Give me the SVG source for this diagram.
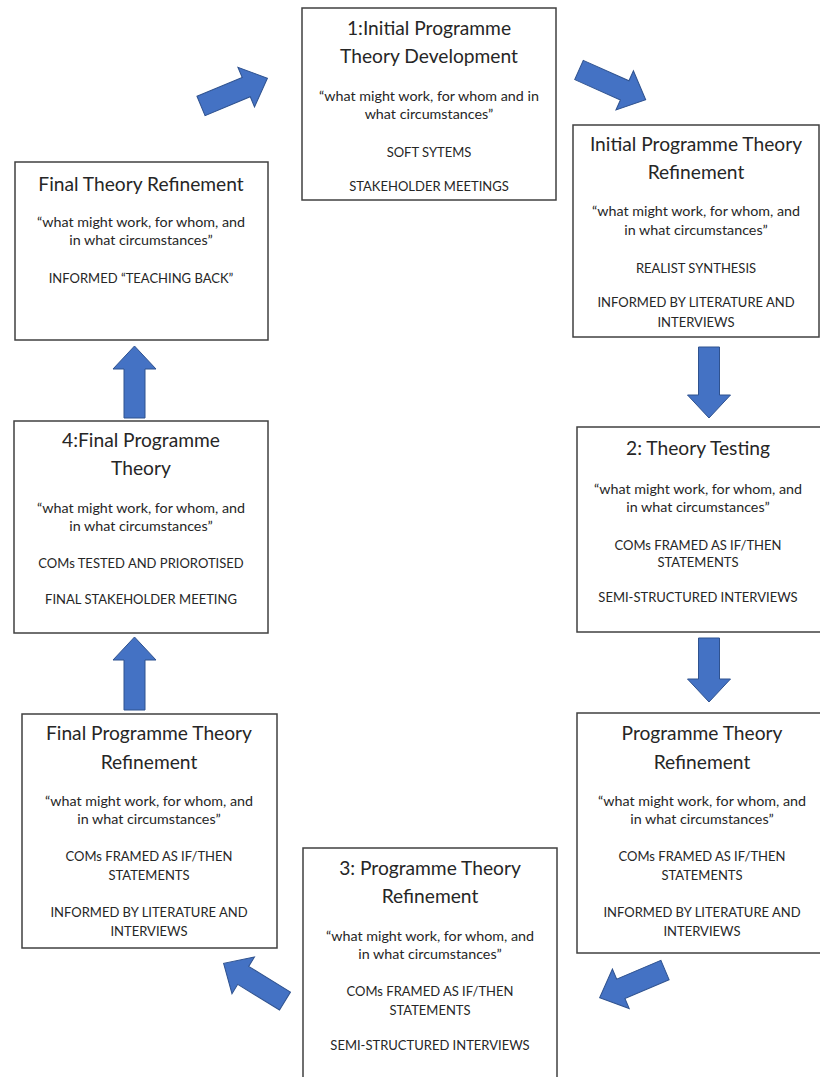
<svg xmlns="http://www.w3.org/2000/svg" width="820" height="1077" viewBox="0 0 820 1077">
  <style>
    .box { fill: #ffffff; stroke: #404040; stroke-width: 1.5; }
    .t { font-family: Lato, "Open Sans", sans-serif; fill: #262626; text-anchor: middle; }
    .h { font-size: 19.2px; }
    .b { font-size: 14.3px; }
    .c { font-size: 13px; }
    .arr { fill: #4472C4; stroke: #2F528F; stroke-width: 1; }
  </style>
  <rect width="820" height="1077" fill="#ffffff"/>

  <!-- process boxes -->
  <g id="initial-development">
    <rect class="box" x="302" y="8" width="254" height="192"/>
    <text class="t h" x="429" y="35">1:Initial Programme</text>
    <text class="t h" x="429" y="63">Theory Development</text>
    <text class="t b" x="429" y="101">“what might work, for whom and in</text>
    <text class="t b" x="429" y="119">what circumstances”</text>
    <text class="t c" x="429" y="157">SOFT SYTEMS</text>
    <text class="t c" x="429" y="191">STAKEHOLDER MEETINGS</text>
  </g>

  <g id="initial-refinement">
    <rect class="box" x="573" y="125" width="246" height="212"/>
    <text class="t h" x="696" y="151">Initial Programme Theory</text>
    <text class="t h" x="696" y="179">Refinement</text>
    <text class="t b" x="696" y="216">“what might work, for whom, and</text>
    <text class="t b" x="696" y="235">in what circumstances”</text>
    <text class="t c" x="696" y="273">REALIST SYNTHESIS</text>
    <text class="t c" x="696" y="307">INFORMED BY LITERATURE AND</text>
    <text class="t c" x="696" y="327">INTERVIEWS</text>
  </g>

  <g id="theory-testing">
    <rect class="box" x="577" y="427" width="245" height="205"/>
    <text class="t h" x="698" y="455">2: Theory Testing</text>
    <text class="t b" x="698" y="494">“what might work, for whom, and</text>
    <text class="t b" x="698" y="512">in what circumstances”</text>
    <text class="t c" x="698" y="550">COMs FRAMED AS IF/THEN</text>
    <text class="t c" x="698" y="567">STATEMENTS</text>
    <text class="t c" x="698" y="602">SEMI-STRUCTURED INTERVIEWS</text>
  </g>

  <g id="programme-refinement">
    <rect class="box" x="577" y="713" width="250" height="240"/>
    <text class="t h" x="702" y="740">Programme Theory</text>
    <text class="t h" x="702" y="769">Refinement</text>
    <text class="t b" x="702" y="806">“what might work, for whom, and</text>
    <text class="t b" x="702" y="824">in what circumstances”</text>
    <text class="t c" x="702" y="861">COMs FRAMED AS IF/THEN</text>
    <text class="t c" x="702" y="880">STATEMENTS</text>
    <text class="t c" x="702" y="917">INFORMED BY LITERATURE AND</text>
    <text class="t c" x="702" y="936">INTERVIEWS</text>
  </g>

  <g id="programme-refinement-3">
    <rect class="box" x="303" y="848" width="254" height="240"/>
    <text class="t h" x="430" y="875">3: Programme Theory</text>
    <text class="t h" x="430" y="903">Refinement</text>
    <text class="t b" x="430" y="941">“what might work, for whom, and</text>
    <text class="t b" x="430" y="959">in what circumstances”</text>
    <text class="t c" x="430" y="996">COMs FRAMED AS IF/THEN</text>
    <text class="t c" x="430" y="1015">STATEMENTS</text>
    <text class="t c" x="430" y="1050">SEMI-STRUCTURED INTERVIEWS</text>
  </g>

  <g id="final-programme-refinement">
    <rect class="box" x="22" y="714" width="255" height="234"/>
    <text class="t h" x="149" y="740">Final Programme Theory</text>
    <text class="t h" x="149" y="769">Refinement</text>
    <text class="t b" x="149" y="806">“what might work, for whom, and</text>
    <text class="t b" x="149" y="824">in what circumstances”</text>
    <text class="t c" x="149" y="861">COMs FRAMED AS IF/THEN</text>
    <text class="t c" x="149" y="880">STATEMENTS</text>
    <text class="t c" x="149" y="917">INFORMED BY LITERATURE AND</text>
    <text class="t c" x="149" y="936">INTERVIEWS</text>
  </g>

  <g id="final-programme-theory">
    <rect class="box" x="14" y="421" width="254" height="212"/>
    <text class="t h" x="141" y="447">4:Final Programme</text>
    <text class="t h" x="141" y="475">Theory</text>
    <text class="t b" x="141" y="513">“what might work, for whom, and</text>
    <text class="t b" x="141" y="531">in what circumstances”</text>
    <text class="t c" x="141" y="568">COMs TESTED AND PRIOROTISED</text>
    <text class="t c" x="141" y="604">FINAL STAKEHOLDER MEETING</text>
  </g>

  <g id="final-theory-refinement">
    <rect class="box" x="15" y="162" width="253" height="178"/>
    <text class="t h" x="141" y="191">Final Theory Refinement</text>
    <text class="t b" x="141" y="227">“what might work, for whom, and</text>
    <text class="t b" x="141" y="245">in what circumstances”</text>
    <text class="t c" x="141" y="283">INFORMED “TEACHING BACK”</text>
  </g>

  <!-- block arrows: drawn pointing along +x from the tail, then placed -->
  <g id="connectors">
    <path class="arr" transform="translate(201,106) rotate(-22.7)" d="M0,-10.5 H49 V-21.5 L72,0 L49,21.5 V10.5 H0 Z"/>
    <path class="arr" transform="translate(579,70) rotate(24)" d="M0,-10.5 H50 V-21.5 L73,0 L50,21.5 V10.5 H0 Z"/>
    <path class="arr" transform="translate(709,347) rotate(90)" d="M0,-10.5 H48 V-21.5 L71,0 L48,21.5 V10.5 H0 Z"/>
    <path class="arr" transform="translate(709,638) rotate(90)" d="M0,-10.5 H41 V-21.5 L64,0 L41,21.5 V10.5 H0 Z"/>
    <path class="arr" transform="translate(665,970) rotate(157)" d="M0,-10.5 H48 V-21.5 L71,0 L48,21.5 V10.5 H0 Z"/>
    <path class="arr" transform="translate(285,1001) rotate(211.5)" d="M0,-10.5 H49 V-21.5 L72,0 L49,21.5 V10.5 H0 Z"/>
    <path class="arr" transform="translate(134.5,710) rotate(-90)" d="M0,-10.5 H50 V-21.5 L73,0 L50,21.5 V10.5 H0 Z"/>
    <path class="arr" transform="translate(134.5,418) rotate(-90)" d="M0,-10.5 H49 V-21.5 L72,0 L49,21.5 V10.5 H0 Z"/>
  </g>
</svg>
